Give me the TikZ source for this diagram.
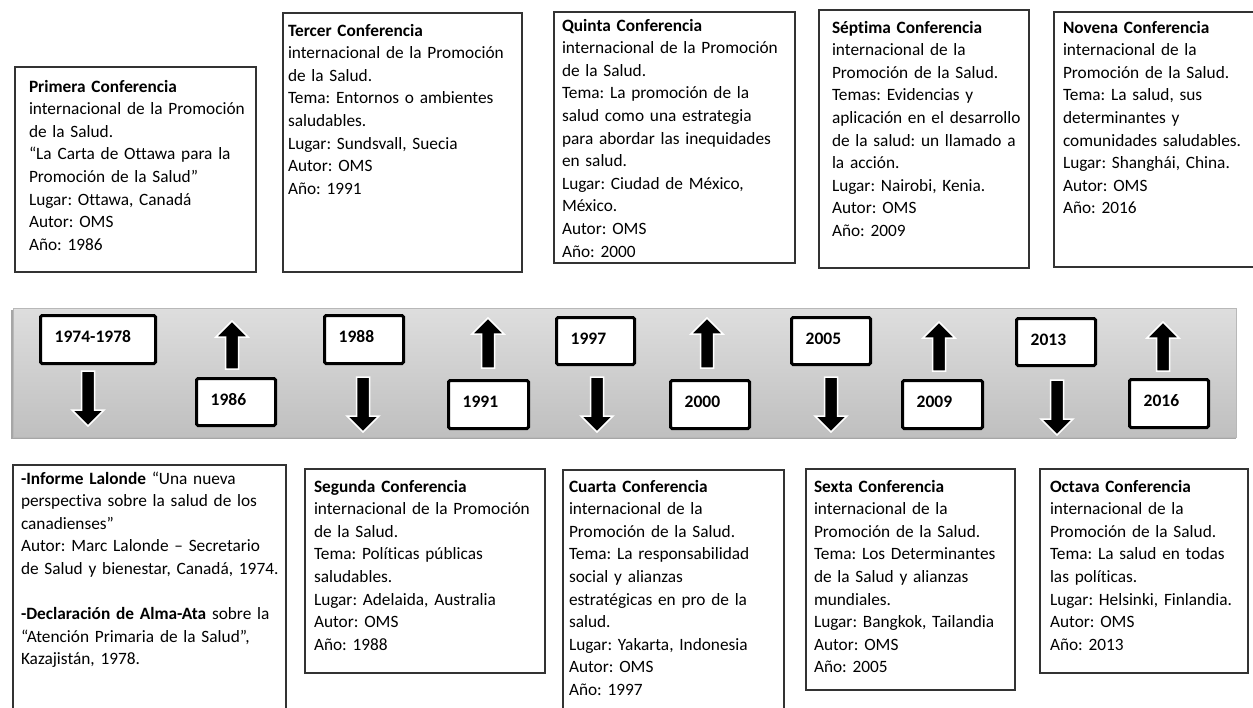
\documentclass[tikz,border=0pt]{standalone}
\usepackage{fontspec}
\setmainfont{Carlito}[Ligatures={TeX,NoCommon}]
\frenchspacing
\begin{document}
\begin{tikzpicture}[x=1pt,y=-1pt,
  cbox/.style={draw=black!80, line width=1.2pt, inner sep=0pt, outer sep=0pt, anchor=north west},
  txt/.style={anchor=base west, inner sep=0pt, outer sep=0pt, align=left, text width=#1,
    font=\fontsize{17.3}{22.6}\selectfont\frenchspacing},
  ybox/.style={draw=black, line width=3pt, fill=white, rounded corners=1.5pt, inner sep=0pt, anchor=north west},
  ytxt/.style={anchor=base west, inner sep=0pt, font=\fontsize{17.5}{19}\selectfont\bfseries},
  arr/.style={fill=black, draw=white, line width=1.5pt, line join=miter}]
\useasboundingbox (0,0) rectangle (1253,707);
\clip (0,0) rectangle (1253,707);
\newcommand\mydnarr[3]{\draw[arr] (#1-6.5,#2) -- (#1+6.5,#2) -- (#1+6.5,#3-16) -- (#1+16,#3-16) -- (#1,#3) -- (#1-16,#3-16) -- (#1-6.5,#3-16) -- cycle;}
\newcommand\myuparr[3]{\draw[arr] (#1-6.5,#3) -- (#1+6.5,#3) -- (#1+6.5,#2+16) -- (#1+16,#2+16) -- (#1,#2) -- (#1-16,#2+16) -- (#1-6.5,#2+16) -- cycle;}
\newcommand\yearbox[6]{% name, x1, y1, x2, y2, text
  \node[ybox, minimum width=#4-#2, minimum height=#5-#3] (#1) at (#2,#3) {};
  \node[ytxt] (#1t) at (#2+15.5, {(#3+#5)/2+4.5}) {#6};}
% ---------- top boxes ----------
\node[cbox, minimum width=241, minimum height=205] (b1) at (15,67) {};
\node[txt=225] (t1) at (29,92) {\textbf{Primera Conferencia}\\internacional de la Promoción\\de la Salud.\\“La Carta de Ottawa para la\\Promoción de la Salud”\\Lugar: Ottawa, Canadá\\Autor: OMS\\Año: 1986};
\node[cbox, minimum width=239, minimum height=259] (b3) at (283,13) {};
\node[txt=232] (t3) at (288,36) {\textbf{Tercer Conferencia}\\internacional de la Promoción\\de la Salud.\\Tema: Entornos o ambientes\\saludables.\\Lugar: Sundsvall, Suecia\\Autor: OMS\\Año: 1991};
\node[cbox, minimum width=241, minimum height=251] (b5) at (554,12) {};
\node[txt=232] (t5) at (562,31) {\textbf{Quinta Conferencia}\\internacional de la Promoción\\de la Salud.\\Tema: La promoción de la\\salud como una estrategia\\para abordar las inequidades\\en salud.\\Lugar: Ciudad de México,\\México.\\Autor: OMS\\Año: 2000};
\node[cbox, minimum width=210, minimum height=258] (b7) at (819,10) {};
\node[txt=196] (t7) at (832,33) {\textbf{Séptima Conferencia}\\internacional de la\\Promoción de la Salud.\\Temas: Evidencias y\\aplicación en el desarrollo\\de la salud: un llamado a\\la acción.\\Lugar: Nairobi, Kenia.\\Autor: OMS\\Año: 2009};
\node[cbox, minimum width=211, minimum height=255] (b9) at (1054,12) {};
\node[txt=200] (t9) at (1063,33) {\textbf{Novena Conferencia}\\internacional de la\\Promoción de la Salud.\\Tema: La salud, sus\\determinantes y\\comunidades saludables.\\Lugar: Shanghái, China.\\Autor: OMS\\Año: 2016};
% ---------- timeline band ----------
\fill[black!35] (11,310) rectangle (1236,439);
\node[inner sep=0pt, outer sep=0pt, anchor=north west, minimum width=1223, minimum height=129,
  top color=black!13, bottom color=black!25, draw=black!28, line width=0.6pt] (band) at (13,308) {};
% arrows
\mydnarr{88}{371}{426}
\mydnarr{363}{377}{432}
\mydnarr{597}{377}{432}
\mydnarr{831}{377}{432}
\mydnarr{1057}{380}{435}
\myuparr{232}{321}{369}
\myuparr{488}{318}{368}
\myuparr{707}{318}{368}
\myuparr{939}{322}{371}
\myuparr{1163}{322}{371}
% year boxes
\yearbox{y1}{39}{314}{154}{362}{1974-1978}
\yearbox{y2}{195}{377}{274}{424}{1986}
\yearbox{y3}{323}{314}{402}{362}{1988}
\yearbox{y4}{447}{379}{527}{427}{1991}
\yearbox{y5}{555}{316}{633}{363}{1997}
\yearbox{y6}{669}{379}{748}{427}{2000}
\yearbox{y7}{790}{316}{869}{363}{2005}
\yearbox{y8}{901}{379}{981}{427}{2009}
\yearbox{y9}{1015}{317}{1094}{364}{2013}
\yearbox{y10}{1128}{378}{1207}{426}{2016}
% ---------- bottom boxes ----------
\node[cbox, minimum width=273, minimum height=260] (b0) at (13,465) {};
\node[txt=262] (t0) at (21,484) {\textbf{-Informe Lalonde} “Una nueva\\perspectiva sobre la salud de los\\canadienses”\\Autor: Marc Lalonde – Secretario\\de Salud y bienestar, Canadá, 1974.\\\mbox{}\\\textbf{-Declaración de Alma-Ata} sobre la\\“Atención Primaria de la Salud”,\\Kazajistán, 1978.};
\node[cbox, minimum width=240, minimum height=204] (b2) at (305,469) {};
\node[txt=230] (t2) at (314,492) {\textbf{Segunda Conferencia}\\internacional de la Promoción\\de la Salud.\\Tema: Políticas públicas\\saludables.\\Lugar: Adelaida, Australia\\Autor: OMS\\Año: 1988};
\node[cbox, minimum width=221, minimum height=260] (b4) at (563,470) {};
\node[txt=212] (t4) at (569,492) {\textbf{Cuarta Conferencia}\\internacional de la\\Promoción de la Salud.\\Tema: La responsabilidad\\social y alianzas\\estratégicas en pro de la\\salud.\\Lugar: Yakarta, Indonesia\\Autor: OMS\\Año: 1997};
\node[cbox, minimum width=209, minimum height=221] (b6) at (806,469) {};
\node[txt=200] (t6) at (814,492) {\textbf{Sexta Conferencia}\\internacional de la\\Promoción de la Salud.\\Tema: Los Determinantes\\de la Salud y alianzas\\mundiales.\\Lugar: Bangkok, Tailandia\\Autor: OMS\\Año: 2005};
\node[cbox, minimum width=208, minimum height=204] (b8) at (1040,469) {};
\node[txt=200] (t8) at (1050,492) {\textbf{Octava Conferencia}\\internacional de la\\Promoción de la Salud.\\Tema: La salud en todas\\las políticas.\\Lugar: Helsinki, Finlandia.\\Autor: OMS\\Año: 2013};
\end{tikzpicture}
\end{document}
